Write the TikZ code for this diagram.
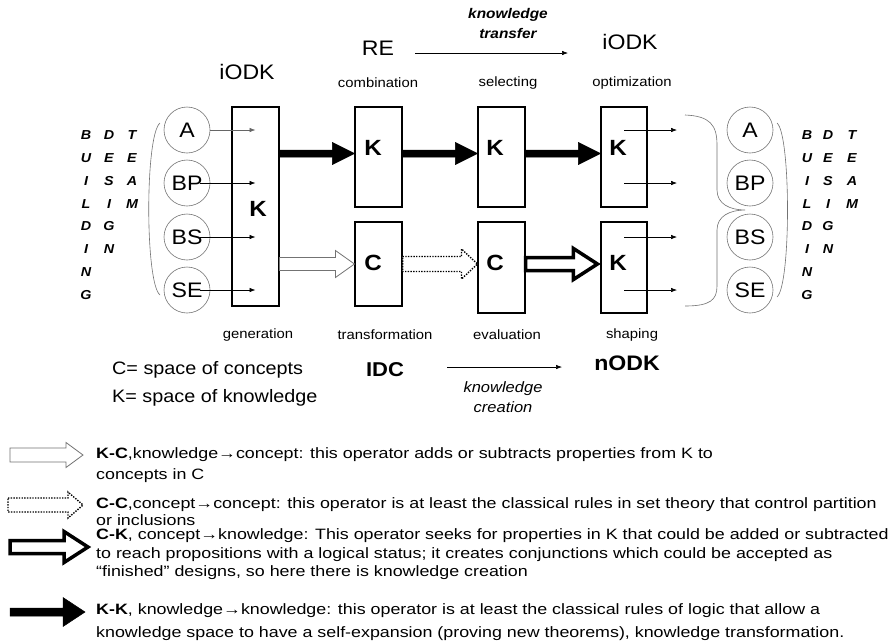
\documentclass[tikz,border=0pt]{standalone}
\usepackage{fontspec}
\setmainfont{Liberation Sans}[FakeStretch=1.1]
\newfontfamily\legfont{Liberation Sans}[FakeStretch=1.19]
\usetikzlibrary{calc,arrows.meta}
\newcommand\setfs[1]{\fontsize{#1}{#1}\selectfont}
% #1 style, #2 start, #3 end, #4 shaft half height, #5 head half height, #6 head length
\newcommand\blockarr[6]{%
  \draw[#1] let \p1=(#2), \p2=(#3) in
    (\x1,\y1+#4pt) -- (\x2-#6pt,\y1+#4pt) -- (\x2-#6pt,\y1+#5pt) -- (\x2,\y1)
    -- (\x2-#6pt,\y1-#5pt) -- (\x2-#6pt,\y1-#4pt) -- (\x1,\y1-#4pt) -- cycle;}
\begin{document}
\begin{tikzpicture}[x=1pt,y=1pt,
  box/.style={draw, line width=1.1pt, inner sep=0pt, minimum width=47pt},
  blab/.style={inner sep=0pt, font=\setfs{22}\bfseries},
  circ/.style={circle, draw=black!55, line width=0.6pt, minimum size=46pt, inner sep=0pt, font=\setfs{21}},
  vl/.style={inner sep=0pt, font=\setfs{13}\bfseries\itshape},
  big/.style={inner sep=0pt, font=\setfs{21}},
  small/.style={inner sep=0pt, font=\setfs{13.5}},
  mid/.style={inner sep=0pt, font=\setfs{18}, anchor=west},
  ital/.style={inner sep=0pt, font=\setfs{15}\itshape},
  thinarrow/.style={line width=0.6pt, -{Latex[length=6pt,width=4.5pt]}},
  brk/.style={draw=black!55, line width=0.6pt},
  kk/.style={draw=black, fill=black, line width=0.5pt},
  kc/.style={draw=black!55, fill=white, line width=0.8pt},
  cc/.style={draw=black, fill=white, line width=1.4pt, dash pattern=on 1.4pt off 1.3pt},
  ck/.style={draw=black, fill=white, line width=3.5pt, line join=miter},
  leg/.style={inner sep=0pt, anchor=base west, font=\legfont\setfs{15}}
]
\useasboundingbox[fill=white] (0,0) rectangle (890,-643);

% ---- top labels
\node[big] (iodk1) at (247,-72) {iODK};
\node[big] (re) at (378,-48) {RE};
\node[inner sep=0pt, font=\setfs{14}\bfseries\itshape] (kt) at (508,-15) {knowledge};
\node[inner sep=0pt, font=\setfs{14}\bfseries\itshape] (ktr) at (508,-33) {transfer};
\coordinate (kta) at (415,-53);
\coordinate (ktb) at (568,-53);
\draw[thinarrow] (kta) -- (ktb);
\node[big] (iodk2) at (630,-42) {iODK};
\node[small] (comb) at (378,-83) {combination};
\node[small] (sel) at (508,-83) {selecting};
\node[small] (opt) at (632,-83) {optimization};

% ---- boxes
\node[box, minimum height=199pt] (b1) at (255.5,-206.5) {};
\node[box, minimum height=100pt] (bRE) at (378.5,-157) {};
\node[box, minimum height=84pt] (bT) at (378.5,-264) {};
\node[box, minimum height=100pt] (bS) at (501.5,-157) {};
\node[box, minimum height=91pt] (bE) at (501.5,-267.5) {};
\node[box, minimum height=100pt, minimum width=46pt] (bO) at (624,-157) {};
\node[box, minimum height=91pt, minimum width=46pt] (bSh) at (624,-267.5) {};

\node[blab] (k1) at (258,-209) {K};
\node[blab] (kRE) at (373,-148) {K};
\node[blab] (cT) at (373,-263) {C};
\node[blab] (kS) at (495,-148) {K};
\node[blab] (cE) at (495,-263) {C};
\node[blab] (kO) at (618,-148) {K};
\node[blab] (kSh) at (618,-263) {K};

% ---- operator arrows
\coordinate (kline) at (0,-153.5);
\blockarr{kk}{b1.east |- kline}{bRE.west}{3.5}{11}{22}
\blockarr{kk}{bRE.east |- kline}{bS.west}{3.5}{11}{22}
\blockarr{kk}{bS.east |- kline}{bO.west}{3.5}{11}{22}
\blockarr{kc}{b1.east |- bT.east}{bT.west}{6.5}{13.5}{19}
\blockarr{cc}{bT.east}{bE.west}{7.5}{15}{16}
\blockarr{ck}{bT.east -| bE.east}{[xshift=-3pt]bSh.west}{6.5}{15.5}{24}

% ---- left circles
\node[circ] (cA) at (187,-130) {A};
\node[circ] (cBP) at (187,-183) {BP};
\node[circ] (cBS) at (187,-237) {BS};
\node[circ] (cSE) at (187,-290) {SE};
\draw[thinarrow, draw=black!60] (cA.east) -- (cA -| b1.center);
\draw[thinarrow] ([xshift=13pt]cBP.center) -- (cBP -| b1.center);
\draw[thinarrow] ([xshift=13pt]cBS.center) -- (cBS -| b1.center);
\draw[thinarrow] ([xshift=13pt]cSE.center) -- (cSE -| b1.center);
\draw[brk] (160,-123) .. controls (145,-135) and (145,-283) .. (160,-295);

% ---- right circles
\node[circ] (rA) at (750,-130) {A};
\node[circ] (rBP) at (750,-183) {BP};
\node[circ] (rBS) at (750,-237) {BS};
\node[circ] (rSE) at (750,-290) {SE};
\coordinate (oe) at (677,0);
\draw[thinarrow] (rA -| bO.center) -- (rA -| oe);
\draw[thinarrow] (rBP -| bO.center) -- (rBP -| oe);
\draw[thinarrow] (rBS -| bSh.center) -- (rBS -| oe);
\draw[thinarrow] (rSE -| bSh.center) -- (rSE -| oe);
\draw[brk] (685,-115) .. controls (710,-116) and (717,-125) .. (717,-145) -- (717,-190)
  .. controls (717,-204) and (730,-210) .. (745,-210)
  .. controls (730,-210) and (717,-216) .. (717,-230) -- (717,-286)
  .. controls (717,-300) and (710,-306) .. (685,-306);
\draw[brk] (777,-123) .. controls (791,-135) and (791,-285) .. (777,-297);

% ---- vertical words
\foreach \ch [count=\i from 0] in {B,U,I,L,D,I,N,G} {
  \node[vl] (lb\i) at (86,{-135-22.86*\i}) {\ch};
  \node[vl] (rb\i) at (807,{-135-22.86*\i}) {\ch};
}
\foreach \ch [count=\i from 0] in {D,E,S,I,G,N} {
  \node[vl] (ld\i) at (109,{-135-22.86*\i}) {\ch};
  \node[vl] (rd\i) at (828,{-135-22.86*\i}) {\ch};
}
\foreach \ch [count=\i from 0] in {T,E,A,M} {
  \node[vl] (lt\i) at (132,{-135-22.86*\i}) {\ch};
  \node[vl] (rt\i) at (852,{-135-22.86*\i}) {\ch};
}

% ---- bottom labels
\node[small] (gen) at (258,-335) {generation};
\node[small] (tra) at (385,-335) {transformation};
\node[small] (eva) at (507,-335) {evaluation};
\node[small] (sha) at (632,-335) {shaping};
\node[mid] (cdef) at (112,-370) {C= space of concepts};
\node[mid] (kdef) at (112,-398) {K= space of knowledge};
\node[inner sep=0pt, font=\setfs{20}\bfseries] (idc) at (385,-370) {IDC};
\coordinate (kca) at (447,-367);
\coordinate (kcb) at (562,-367);
\draw[thinarrow] (kca) -- (kcb);
\node[ital] (kc1) at (503,-389) {knowledge};
\node[ital] (kc2) at (503,-407) {creation};
\node[inner sep=0pt, font=\setfs{21}\bfseries] (nodk) at (627,-363) {nODK};

% ---- legend
\coordinate (la1) at (10,-455); \coordinate (la2) at (83,-455);
\coordinate (lb1) at (8,-505); \coordinate (lb2) at (83,-505);
\coordinate (lc1) at (10,-547); \coordinate (lc2) at (88,-547);
\coordinate (ld1) at (10,-612); \coordinate (ld2) at (85,-612);
\blockarr{kc}{la1}{la2}{7}{12.5}{17}
\blockarr{cc}{lb1}{lb2}{7}{13}{15}
\blockarr{ck}{lc1}{lc2}{6.5}{15.5}{24}
\blockarr{kk}{ld1}{ld2}{4}{14.5}{22}

\node[leg] (t1) at (96,-458) {\textbf{K-C},knowledge→concept: this operator adds or subtracts properties from K to};
\node[leg] (t2) at (96,-479) {concepts in C};
\node[leg] (t3) at (96,-508) {\textbf{C-C},concept→concept: this operator is at least the classical rules in set theory that control partition};
\node[leg] (t4) at (96,-525) {or inclusions};
\node[leg] (t5) at (96,-539.5) {\textbf{C-K}, concept→knowledge: This operator seeks for properties in K that could be added or subtracted};
\node[leg] (t6) at (96,-558) {to reach propositions with a logical status; it creates conjunctions which could be accepted as};
\node[leg] (t7) at (96,-576) {“finished” designs, so here there is knowledge creation};
\node[leg] (t8) at (96,-614) {\textbf{K-K}, knowledge→knowledge: this operator is at least the classical rules of logic that allow a};
\node[leg] (t9) at (96,-637) {knowledge space to have a self-expansion (proving new theorems), knowledge transformation.};
\end{tikzpicture}
\end{document}
